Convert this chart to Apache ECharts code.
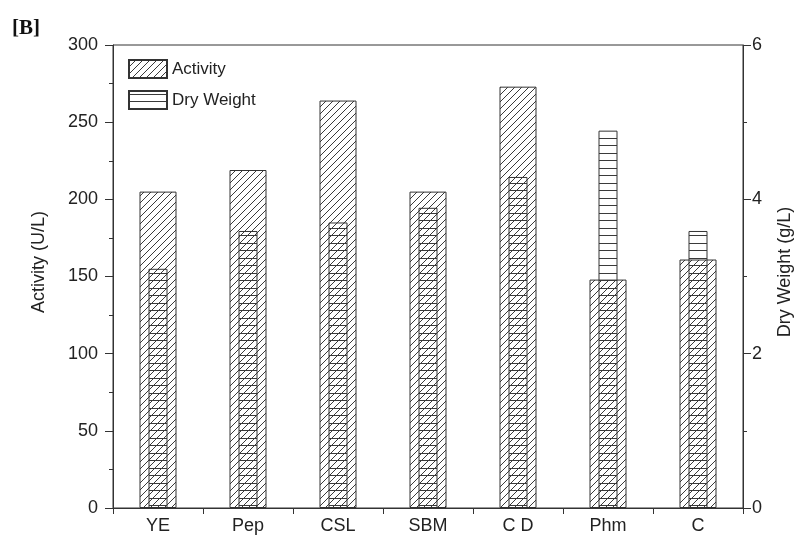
<!DOCTYPE html>
<html>
<head>
<meta charset="utf-8">
<script src="https://cdn.jsdelivr.net/npm/echarts@6/dist/echarts.min.js"></script>
<style>
html,body{margin:0;padding:0;background:#fff;}
#chart{width:796px;height:537px;}
</style>
</head>
<body>
<div id="chart"></div>
<script>
// ---- data ----
var categories = ['YE', 'Pep', 'CSL', 'SBM', 'C D', 'Phm', 'C'];
var activity = [205, 219, 264, 205, 273, 148, 161];      // U/L
var dryWeight = [3.10, 3.59, 3.70, 3.89, 4.29, 4.89, 3.59]; // g/L
var leftTicks = [0, 50, 100, 150, 200, 250, 300];
var rightTicks = [0, 2, 4, 6];

var FONT = 'Liberation Sans, Arial, sans-serif';
var INK = '#333';

function diagPattern() {
  var s = 7, c = document.createElement('canvas');
  c.width = s; c.height = s;
  var g = c.getContext('2d');
  g.strokeStyle = '#3a3a3a'; g.lineWidth = 1;
  g.beginPath();
  g.moveTo(-1, s + 1); g.lineTo(s + 1, -1);
  g.moveTo(-1, 1); g.lineTo(1, -1);
  g.moveTo(s - 1, s + 1); g.lineTo(s + 1, s - 1);
  g.stroke();
  return c;
}
function horizPattern() {
  var w = 8, c = document.createElement('canvas');
  c.width = w; c.height = 15;
  var g = c.getContext('2d');
  g.fillStyle = '#3a3a3a';
  g.fillRect(0, 3, w, 1);
  g.fillRect(0, 10, w, 1);
  return c;
}

var chart = echarts.init(document.getElementById('chart'), null, {renderer: 'canvas'});
var option = {
  animation: false,
  backgroundColor: '#fff',
  grid: {left: 113, right: 53, top: 45, bottom: 29, show: true, borderColor: INK, borderWidth: 1, backgroundColor: 'transparent'},
  legend: {
    left: 123, top: 54, orient: 'vertical', itemWidth: 38, itemHeight: 18, itemGap: 11,
    icon: 'rect',
    textStyle: {fontFamily: FONT, fontSize: 17, color: '#222'},
    data: ['Activity', 'Dry Weight']
  },
  xAxis: [{
    type: 'category', data: categories, gridIndex: 0,
    axisLine: {lineStyle: {color: INK, width: 1}},
    axisTick: {show: true, length: 6, alignWithLabel: false, lineStyle: {color: INK}},
    axisLabel: {fontFamily: FONT, fontSize: 18, color: '#222', margin: 9}
  }, {
    type: 'category', data: categories, show: false
  }],
  yAxis: [{
    type: 'value', min: 0, max: 300, interval: 50, position: 'left',
    axisLine: {show: true, lineStyle: {color: INK, width: 1}},
    axisTick: {show: true, length: 8, lineStyle: {color: INK}},
    minorTick: {show: true, splitNumber: 2, length: 4, lineStyle: {color: INK}},
    splitLine: {show: false},
    axisLabel: {fontFamily: FONT, fontSize: 18, color: '#222', margin: 15}
  }, {
    type: 'value', min: 0, max: 6, interval: 2, position: 'right',
    axisLine: {show: true, lineStyle: {color: INK, width: 1}},
    axisTick: {show: true, length: 8, lineStyle: {color: INK}},
    minorTick: {show: true, splitNumber: 2, length: 4, lineStyle: {color: INK}},
    splitLine: {show: false},
    axisLabel: {fontFamily: FONT, fontSize: 18, color: '#222', margin: 9}
  }],
  series: [{
    name: 'Activity', type: 'bar', xAxisIndex: 0, yAxisIndex: 0, data: activity, barWidth: 37,
    itemStyle: {color: {image: diagPattern(), repeat: 'repeat'}, borderColor: INK, borderWidth: 1}
  }, {
    name: 'Dry Weight', type: 'bar', xAxisIndex: 1, yAxisIndex: 1, data: dryWeight, barWidth: 19,
    itemStyle: {color: {image: horizPattern(), repeat: 'repeat'}, borderColor: INK, borderWidth: 1}
  }],
  graphic: [
    {type: 'text', left: 12, top: 18, style: {text: '[B]', font: 'bold 21px "Liberation Serif", "Times New Roman", serif', fill: '#111'}},
    {type: 'text', x: 39, y: 262, rotation: Math.PI / 2, style: {text: 'Activity (U/L)', font: '18px ' + FONT, fill: '#222', align: 'center', verticalAlign: 'middle'}},
    {type: 'text', x: 785, y: 272, rotation: Math.PI / 2, style: {text: 'Dry Weight (g/L)', font: '18px ' + FONT, fill: '#222', align: 'center', verticalAlign: 'middle'}}
  ]
};
chart.setOption(option);
</script>
</body>
</html>
